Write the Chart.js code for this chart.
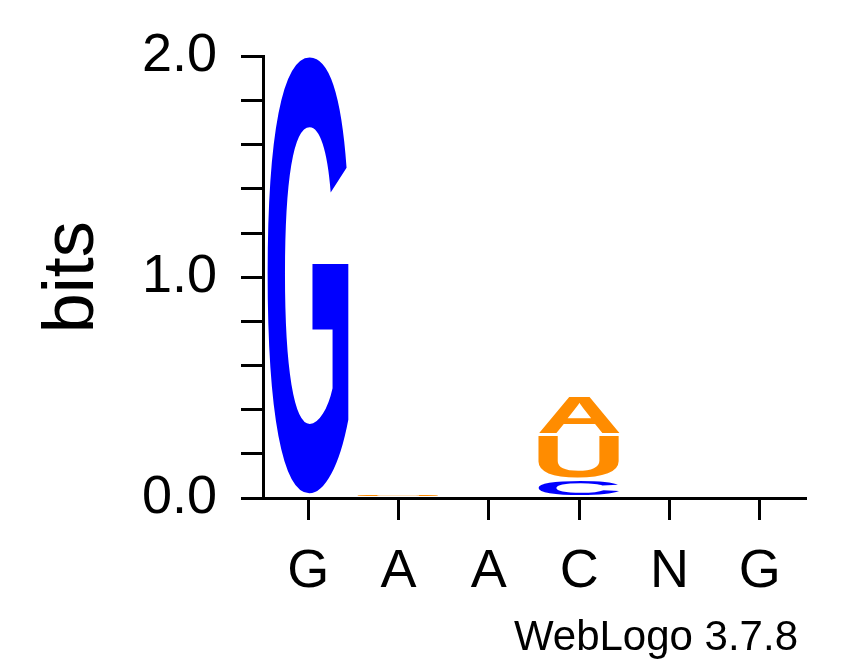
<!DOCTYPE html>
<html>
<head>
<meta charset="utf-8">
<script src="https://cdn.jsdelivr.net/npm/chart.js@4/dist/chart.umd.min.js"></script>
<style>
  body { margin: 0; background: #fff; }
  #wrap { width: 850px; height: 667px; }
</style>
</head>
<body>
<div id="wrap"><canvas id="logo"></canvas></div>
<script>
const positions = ['G', 'A', 'A', 'C', 'N', 'G'];
// stacked bottom to top, in bits
const letters = ['C', 'U', 'A', 'G'];
const letterColors = ['#0000ff', '#ff8c00', '#ff8c00', '#0000ff'];
const heightsC = [0, 0, 0, 0.08, 0, 0];
const heightsU = [0, 0.015, 0.008, 0.2, 0, 0.008];
const heightsA = [0, 0, 0, 0.18, 0, 0];
const heightsG = [2.0, 0, 0, 0, 0, 0];
const seriesHeights = [heightsC, heightsU, heightsA, heightsG];

const letterPlugin = {
    id: 'letters',
    afterDatasetsDraw(chart) {
        const ctx = chart.ctx;
        chart.data.datasets.forEach((ds, i) => {
            chart.getDatasetMeta(i).data.forEach((bar) => {
                const top = Math.min(bar.y, bar.base);
                const h = Math.abs(bar.base - bar.y);
                if (h < 0.3) return;
                const w = bar.width;
                ctx.save();
                ctx.font = 'bold 100px "Liberation Sans", Arial, sans-serif';
                const m = ctx.measureText(ds.letter);
                const tw = m.actualBoundingBoxLeft + m.actualBoundingBoxRight;
                const th = m.actualBoundingBoxAscent + m.actualBoundingBoxDescent;
                const gap = Math.min(3, h * 0.1);
                ctx.translate(bar.x - w / 2, top);
                ctx.scale(w / tw, (h - gap) / th);
                ctx.fillStyle = ds.color;
                ctx.fillText(ds.letter, m.actualBoundingBoxLeft, m.actualBoundingBoxAscent);
                ctx.restore();
            });
        });
        ctx.save();
        ctx.font = '42px "Liberation Sans", Arial, sans-serif';
        ctx.fillStyle = '#000';
        ctx.textAlign = 'right';
        ctx.textBaseline = 'alphabetic';
        ctx.fillText('WebLogo 3.7.8', 798, 650);
        ctx.restore();
    }
};

new Chart(document.getElementById('logo'), {
    type: 'bar',
    data: {
        labels: positions,
        datasets: letters.map((l, i) => ({
            letter: l,
            color: letterColors[i],
            data: seriesHeights[i],
            backgroundColor: 'rgba(0,0,0,0)',
            borderWidth: 0,
            barPercentage: 0.9,
            categoryPercentage: 1.0
        }))
    },
    options: {
        responsive: true,
        maintainAspectRatio: false,
        animation: false,
        layout: { padding: { top: 50, right: 45, left: 30, bottom: 0 } },
        plugins: { legend: { display: false }, tooltip: { enabled: false } },
        scales: {
            x: {
                stacked: true,
                afterFit(scale) { scale.height = 169; },
                border: { color: '#000', width: 3 },
                grid: { drawOnChartArea: false, color: '#000', lineWidth: 3, tickLength: 22, offset: false },
                ticks: { color: '#000', font: { size: 54, family: '"Liberation Sans", Arial, sans-serif' }, padding: 20 }
            },
            y: {
                stacked: true,
                min: 0,
                max: 2,
                afterFit(scale) { scale.width = 233; },
                border: { color: '#000', width: 3 },
                grid: { drawOnChartArea: false, color: '#000', lineWidth: 3, tickLength: 22 },
                ticks: {
                    stepSize: 0.2,
                    autoSkip: false,
                    color: '#000',
                    padding: 24,
                    font: { size: 54, family: '"Liberation Sans", Arial, sans-serif' },
                    callback: (v) => Math.abs(v - Math.round(v)) < 1e-6 ? v.toFixed(1) : ''
                },
                title: {
                    display: true,
                    text: 'bits',
                    color: '#000',
                    font: { size: 72, family: '"Liberation Sans", Arial, sans-serif' },
                    padding: 0
                }
            }
        }
    },
    plugins: [letterPlugin]
});
</script>
</body>
</html>
